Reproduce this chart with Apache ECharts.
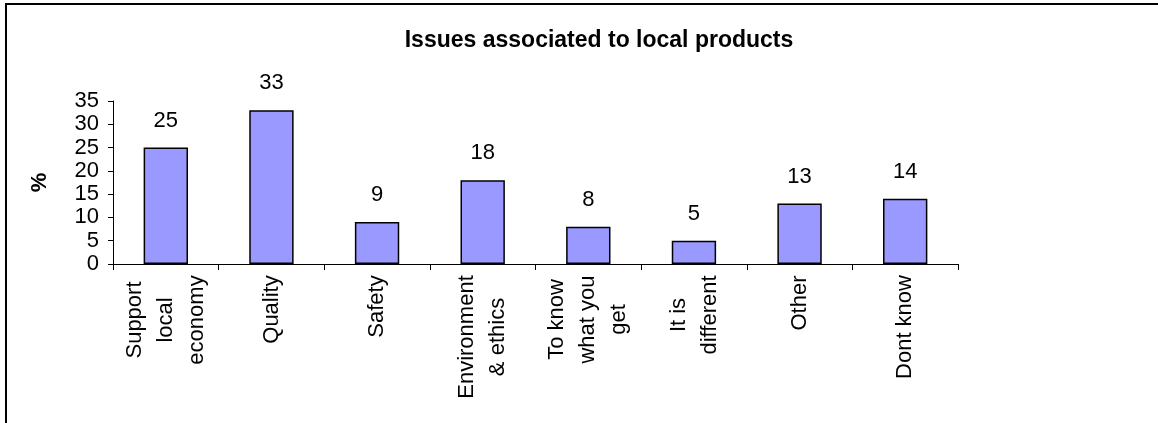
<!DOCTYPE html>
<html>
<head>
<meta charset="utf-8">
<script src="https://cdn.jsdelivr.net/npm/echarts@6/dist/echarts.min.js"></script>
<style>
html,body{margin:0;padding:0;background:#fff;}
#chart{width:1158px;height:423px;}
</style>
</head>
<body>
<div id="chart"></div>
<script>
const titleText = 'Issues associated to local products';
const categories = ['Support\nlocal\neconomy', 'Quality', 'Safety', 'Environment\n& ethics', 'To know\nwhat you\nget', 'It is\ndifferent', 'Other', 'Dont know'];
const values = [25, 33, 9, 18, 8, 5, 13, 14];
const yTicks = [0, 5, 10, 15, 20, 25, 30, 35];
const yName = '%';

const FONT = '"Liberation Sans", Arial, sans-serif';
const FS = 22;

// measure to centre lines within each rotated label block
const ctx = document.createElement('canvas').getContext('2d');
ctx.font = FS + 'px ' + FONT;
const rich = {};
categories.forEach((c, i) => {
  const w = Math.max(...c.split('\n').map(s => ctx.measureText(s).width));
  rich['w' + i] = { width: Math.ceil(w), align: 'center', fontSize: FS, fontFamily: FONT, color: '#000', lineHeight: 31 };
});

const chart = echarts.init(document.getElementById('chart'), null, { renderer: 'canvas' });
chart.setOption({
  animation: false,
  backgroundColor: '#fff',
  title: {
    text: titleText,
    left: 594,
    textAlign: 'center',
    top: 24,
    textStyle: { fontFamily: FONT, fontSize: 23, fontWeight: 'bold', color: '#000' }
  },
  graphic: [{
    type: 'rect',
    shape: { x: 6, y: 4, width: 1300, height: 600 },
    style: { fill: 'none', stroke: '#000', lineWidth: 2 },
    silent: true
  }],
  grid: { left: 113, right: 200, top: 101, bottom: 159, containLabel: false },
  xAxis: {
    type: 'category',
    data: categories,
    axisLine: { show: true, lineStyle: { color: '#000', width: 1 } },
    axisTick: { show: true, alignWithLabel: false, length: 6, lineStyle: { color: '#000' } },
    axisLabel: {
      rotate: 90,
      interval: 0,
      margin: 11,
      fontSize: FS,
      fontFamily: FONT,
      color: '#000',
      lineHeight: 31,
      rich: rich,
      formatter: function (val) {
        const i = categories.indexOf(val);
        return val.split('\n').map(s => '{w' + i + '|' + s + '}').join('\n');
      }
    },
    splitLine: { show: false }
  },
  yAxis: {
    type: 'value',
    min: 0,
    max: 35,
    interval: 5,
    name: yName,
    nameLocation: 'middle',
    nameGap: 62,
    nameRotate: 90,
    nameTextStyle: { fontFamily: FONT, fontSize: 22, fontWeight: 'bold', color: '#000' },
    axisLine: { show: true, lineStyle: { color: '#000', width: 1 } },
    axisTick: { show: true, inside: false, length: 5, lineStyle: { color: '#000' } },
    axisLabel: {
      margin: 14,
      fontSize: FS,
      fontFamily: FONT,
      color: '#000',
      formatter: v => (yTicks.indexOf(v) >= 0 ? String(v) : '')
    },
    splitLine: { show: false }
  },
  series: [{
    type: 'bar',
    data: values,
    barWidth: '42%',
    itemStyle: { color: '#9999FF', borderColor: '#000', borderWidth: 1.5 },
    label: {
      show: true,
      position: 'top',
      distance: 16,
      fontSize: FS,
      fontFamily: FONT,
      color: '#000'
    }
  }]
});
</script>
</body>
</html>
